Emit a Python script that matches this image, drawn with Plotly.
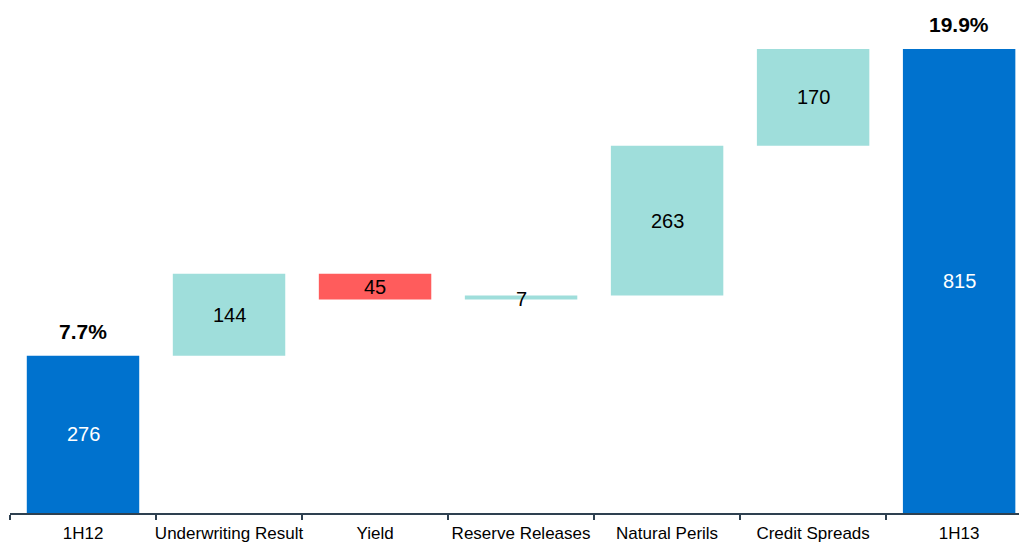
import plotly.graph_objects as go

# Waterfall of 1H12 -> 1H13 bridge
categories = ["1H12", "Underwriting Result", "Yield", "Reserve Releases",
              "Natural Perils", "Credit Spreads", "1H13"]
changes = [276, 144, -45, 7, 263, 170, None]
kinds = ["total", "up", "down", "up", "up", "up", "total"]
pct_labels = {"1H12": "7.7%", "1H13": "19.9%"}

BLUE = "#0072CE"
TEAL = "#9FDEDB"
RED = "#FF5C5C"
FONT = "Arial, Liberation Sans, sans-serif"

# build bases and heights from the running total
bases, heights, colors, labels, label_colors = [], [], [], [], []
running = 0
for cat, ch, kind in zip(categories, changes, kinds):
    if kind == "total":
        if ch is not None:
            running = ch
        bases.append(0)
        heights.append(running)
        colors.append(BLUE)
        labels.append(str(running))
        label_colors.append("white")
    else:
        start = running
        running += ch
        bases.append(min(start, running))
        heights.append(abs(ch))
        colors.append(TEAL if ch > 0 else RED)
        labels.append(str(abs(ch)))
        label_colors.append("black")

fig = go.Figure(go.Bar(
    x=categories, y=heights, base=bases,
    marker=dict(color=colors, line=dict(width=0)),
    width=0.77, hoverinfo="skip",
))

annotations = []
for cat, b, h, lab, lc in zip(categories, bases, heights, labels, label_colors):
    annotations.append(dict(
        x=cat, y=b + h / 2, text=lab, showarrow=False,
        font=dict(family=FONT, size=20, color=lc),
        xanchor="center", yanchor="middle",
        yshift=-2 if h < 20 else 0,
    ))
    if cat in pct_labels:
        annotations.append(dict(
            x=cat, y=b + h, text="<b>%s</b>" % pct_labels[cat], showarrow=False,
            font=dict(family=FONT, size=21, color="black"),
            xanchor="center", yanchor="bottom", yshift=11,
        ))

fig.update_layout(
    width=1019, height=543,
    margin=dict(l=10, r=0, t=0, b=30),
    paper_bgcolor="white", plot_bgcolor="white",
    showlegend=False, bargap=0.23,
    annotations=annotations,
    xaxis=dict(
        type="category", range=[-0.5, 6.41], automargin=False,
        showline=True, linecolor="#2E4050", linewidth=1.5,
        ticks="outside", tickson="boundaries", ticklen=5,
        tickcolor="#2E4050", tickwidth=1.5, tickangle=0,
        ticklabelstandoff=4,
        tickfont=dict(family=FONT, size=17, color="black"),
        showgrid=False, zeroline=False,
    ),
    yaxis=dict(range=[0, 901], visible=False, showgrid=False, zeroline=False),
)

fig.write_html("out.html")
